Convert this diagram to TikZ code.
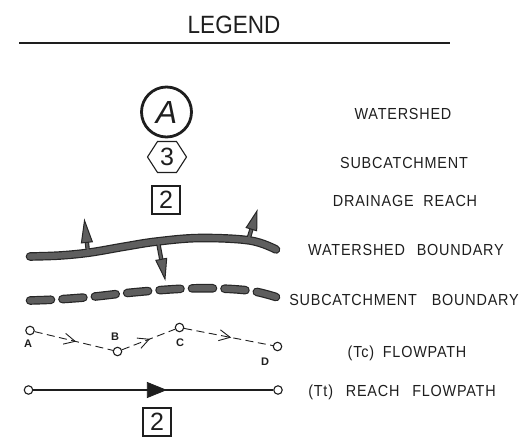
\documentclass[tikz,border=0pt]{standalone}
\usepackage{fontspec}
\setmainfont{Liberation Sans}
\newfontfamily\cadfont[FakeStretch=0.9, LetterSpace=5]{Liberation Sans}
\usetikzlibrary{arrows.meta,calc,decorations.markings}
\definecolor{ink}{HTML}{1E1E1E}
\definecolor{bfill}{HTML}{5E5E5E}
\definecolor{bline}{HTML}{262626}
\definecolor{tfill}{HTML}{4A4A4A}
\newcommand{\wshaft}[3]{%
  \coordinate (h) at ($(#2)!#3!(#1)$);
  \draw[line width=4.4pt, bline] (#1) -- (h);}
\newcommand{\wshaftin}[3]{%
  \coordinate (h) at ($(#2)!#3!(#1)$);
  \draw[line width=2.2pt, bfill] (#1) -- (h);}
\newcommand{\whead}[3]{%
  \coordinate (h) at ($(#2)!#3!(#1)$);
  \filldraw[fill=bfill, draw=bline, line width=1pt, line join=miter]
    (#2) -- ($(h)!5.5pt!90:(#2)$) -- ($(h)!5.5pt!-90:(#2)$) -- cycle;}
\begin{document}
\begin{tikzpicture}[x=1pt,y=-1pt,
  lbl/.style={anchor=base, text=ink, font=\cadfont\fontsize{16}{18}\selectfont, inner sep=0pt},
  ptlbl/.style={text=ink, font=\fontsize{11}{12}\selectfont\bfseries, inner sep=0pt},
  dot/.style={circle, draw=ink, line width=1.1pt, minimum size=8.5pt, inner sep=0pt},
  numbox/.style={draw=ink, line width=1.1pt, minimum size=28pt, inner sep=0pt, text=ink, font=\fontsize{25}{25}\selectfont},
  tc/.style={draw=ink, line width=0.9pt, dash pattern=on 8pt off 4.5pt,
    postaction={decorate}, decoration={markings, mark=at position 0.53 with {\arrow[ink, line width=0.9pt]{Straight Barb[length=11pt,width=11pt]}}}},
  wsouter/.style={line width=8.6pt, bline, line cap=round},
  wsinner/.style={line width=6.2pt, bfill, line cap=round},
  scdash/.style={dash pattern=on 21pt off 11.5pt}
]
\useasboundingbox (0,0) rectangle (523,444);

% title
\node[anchor=base, text=ink, inner sep=0pt, font=\fontsize{25}{25}\selectfont] (title) at (234,33.3) {\scalebox{0.9}[1]{LEGEND}};
\coordinate (ruleL) at (19,43);
\coordinate (ruleR) at (450,43);
\draw[line width=1.3pt, ink] (ruleL) -- (ruleR);

% watershed symbol
\node[circle, draw=ink, line width=2.8pt, minimum size=50pt, inner sep=0pt, text=ink,
  font=\fontsize{32}{32}\selectfont\itshape] (ws) at (166.5,112) {A};
% subcatchment symbol
\coordinate (h1) at (147.5,157);
\coordinate (h2) at (157.5,141.5);
\coordinate (h3) at (176.5,141.5);
\coordinate (h4) at (186.5,157);
\coordinate (h5) at (176.5,172.5);
\coordinate (h6) at (157.5,172.5);
\draw[ink, line width=1.1pt] (h1) -- (h2) -- (h3) -- (h4) -- (h5) -- (h6) -- cycle;
\node[text=ink, inner sep=0pt, font=\fontsize{25}{25}\selectfont] (sc) at (167,157) {3};
% drainage reach symbol
\node[numbox] (dr) at (166,200) {2};

% watershed boundary
\wshaft{88,252.5}{84.5,220.5}{22pt}
\wshaft{158,242}{165,279}{20pt}
\wshaft{248,240.5}{257,211}{19pt}
\draw[wsouter] plot[smooth, tension=0.6] coordinates {(30,256.5) (60,255.5) (90,252.5) (125,246.5) (157,241.5) (200,238) (250,240.5) (276,249.5)};
\wshaftin{88,252.5}{84.5,220.5}{22pt}
\wshaftin{158,242}{165,279}{20pt}
\wshaftin{248,240.5}{257,211}{19pt}
\draw[wsinner] plot[smooth, tension=0.6] coordinates {(30,256.5) (60,255.5) (90,252.5) (125,246.5) (157,241.5) (200,238) (250,240.5) (276,249.5)};
\whead{88,252.5}{84.5,220.5}{22pt}
\whead{158,242}{165,279}{20pt}
\whead{248,240.5}{257,211}{19pt}

% subcatchment boundary
\draw[wsouter, scdash] plot[smooth, tension=0.6] coordinates {(30,300.5) (56,299.5) (90,297) (122,293.5) (155,290.5) (188,288.5) (220,288.5) (252,291) (276,297)};
\draw[wsinner, scdash] plot[smooth, tension=0.6] coordinates {(30,300.5) (56,299.5) (90,297) (122,293.5) (155,290.5) (188,288.5) (220,288.5) (252,291) (276,297)};

% Tc flowpath
\node[dot] (pA) at (30,330.5) {};
\node[dot] (pB) at (117.5,351.5) {};
\node[dot] (pC) at (179.5,327.5) {};
\node[dot] (pD) at (277.5,346.5) {};
\node[ptlbl] (lA) at (28,344) {A};
\node[ptlbl] (lB) at (115,337) {B};
\node[ptlbl] (lC) at (180,343) {C};
\node[ptlbl] (lD) at (265,362) {D};
\draw[tc] (pA) -- (pB);
\draw[tc] (pB) -- (pC);
\draw[tc] (pC) -- (pD);

% Tt reach flowpath
\node[dot] (r1) at (28.5,390) {};
\node[dot] (r2) at (278,390) {};
\draw[ink, line width=1.3pt, postaction={decorate},
  decoration={markings, mark=at position 0.557 with {\arrow[fill=tfill, draw=ink, line width=0.8pt]{Triangle[length=20pt,width=16pt]}}}] (r1) -- (r2);
\node[numbox] (rb) at (157,422) {2};

% labels
\node[lbl] (t1) at (403,119.5) {WATERSHED};
\node[lbl] (t2) at (404,168) {SUBCATCHMENT};
\node[lbl] (t3) at (405,206) {DRAINAGE\hspace{5pt} REACH};
\node[lbl] (t4) at (406,255) {WATERSHED\hspace{7pt} BOUNDARY};
\node[lbl] (t5) at (404,305.5) {SUBCATCHMENT\hspace{10pt} BOUNDARY};
\node[lbl] (t6) at (407,357.5) {(Tc)\hspace{4pt} FLOWPATH};
\node[lbl] (t7) at (402,396.5) {(Tt)\hspace{8pt} REACH\hspace{8pt} FLOWPATH};
\end{tikzpicture}
\end{document}
